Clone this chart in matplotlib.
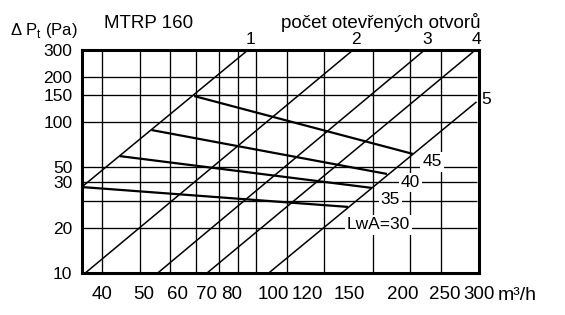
import matplotlib.pyplot as plt

plt.rcParams["font.family"] = ["Liberation Sans", "DejaVu Sans"]
plt.rcParams["mathtext.fontset"] = "custom"
plt.rcParams["mathtext.rm"] = "Liberation Sans"

# grid values (m3/h and Pa)
GRID_X = [40, 50, 60, 70, 80, 90, 100, 120, 150, 200, 250, 300]
GRID_Y = [10, 20, 30, 40, 50, 100, 150, 200, 300]

# tick labels as printed in the original (bottom row is drawn wider than the grid)
X_LABELS = [40, 50, 60, 70, 80, 100, 120, 150, 200, 250, 300]
Y_TICKS = [10, 20, 30, 40, 50, 100, 150, 200, 300]
Y_LABELS = ["10", "20", "", "30", "50", "100", "150", "200", "300"]

# number of open outlets: line from (q0, p0) to (q1, p1)
OPEN_NAMES = ["1", "2", "3", "4", "5"]
OPEN_Q0 = [35.5, 36.2, 55.7, 74.7, 107.8]
OPEN_P0 = [37.2, 10, 10, 10, 10]
OPEN_Q1 = [95.3, 178, 272.5, 364, 371]
OPEN_P1 = [300, 300, 300, 292, 136]

# sound power level lines
NOISE_NAMES = ["LwA=30", "35", "40", "45"]
NOISE_Q0 = [35.5, 44.4, 53.7, 69.2]
NOISE_P0 = [37.1, 59.5, 88.5, 148.6]
NOISE_Q1 = [172.9, 199.3, 217.8, 254]
NOISE_P1 = [27.4, 36.6, 45.3, 61.5]

LABEL_STRETCH = 434 / 390  # bottom label row vs. grid spacing


def label_pos(v):
    return 40 * (v / 40) ** LABEL_STRETCH


fig = plt.figure(figsize=(5.65, 3.15), dpi=100)
ax = fig.add_axes([0.1451, 0.1333, 0.7027, 0.708])
ax.set_xscale("log")
ax.set_yscale("log")
xlim = (35.5, 371)
ax.set_xlim(*xlim)
ax.set_ylim(10, 300)

ax.vlines(GRID_X, 10, 300, color="black", lw=0.95, zorder=1)
ax.hlines(GRID_Y, xlim[0], xlim[1], color="black", lw=0.95, zorder=1)

for name, q0, p0, q1, p1 in zip(OPEN_NAMES, OPEN_Q0, OPEN_P0, OPEN_Q1, OPEN_P1):
    ax.plot([q0, q1], [p0, p1], color="black", lw=1.1, zorder=2,
            solid_capstyle="butt")
    if name == "5":
        ax.annotate(name, (q1, p1), xytext=(3.6, 2), textcoords="offset points",
                    ha="left", va="center", fontsize=12.5, annotation_clip=False)
    else:
        ax.annotate(name, (q1, 300), xytext=(2, 4.3), textcoords="offset points",
                    ha="center", va="baseline", fontsize=12.5, annotation_clip=False)

noise_offsets = {"LwA=30": (21.8, -13), "35": (13.3, -8.1),
                 "40": (16.9, -6.1), "45": (13.7, -5.8)}
for name, q0, p0, q1, p1 in zip(NOISE_NAMES, NOISE_Q0, NOISE_P0, NOISE_Q1, NOISE_P1):
    ax.plot([q0, q1], [p0, p1], color="black", lw=1.6, zorder=2,
            solid_capstyle="butt")
    ax.annotate(name, (q1, p1), xytext=noise_offsets[name], textcoords="offset points",
                ha="center", va="center", fontsize=12.5, zorder=3,
                bbox=dict(boxstyle="square,pad=0.12", fc="white", ec="none"))

ax.set_xticks([label_pos(v) for v in X_LABELS])
ax.set_xticklabels([str(v) for v in X_LABELS])
ax.xaxis.set_minor_locator(plt.NullLocator())
ax.set_yticks(Y_TICKS)
ax.set_yticklabels(Y_LABELS)
ax.yaxis.set_minor_locator(plt.NullLocator())
ax.tick_params(axis="x", length=0, pad=9.5, labelsize=13.5)
ax.tick_params(axis="y", length=0, pad=7, labelsize=12.5)

for sp in ax.spines.values():
    sp.set_linewidth(2.2)
    sp.set_zorder(4)

fig.text(0.0177, 0.889, r"Δ P$_\mathrm{t}$ (Pa)", fontsize=12, ha="left", va="baseline")
fig.text(0.2637, 0.911, "MTRP 160", fontsize=13.5, ha="center", va="baseline")
fig.text(0.674, 0.911, "počet otevřených otvorů", fontsize=13.5, ha="center", va="baseline")
fig.text(0.8814, 0.048, "m³/h", fontsize=14, ha="left", va="baseline")

fig.savefig("out.png", dpi=100)
